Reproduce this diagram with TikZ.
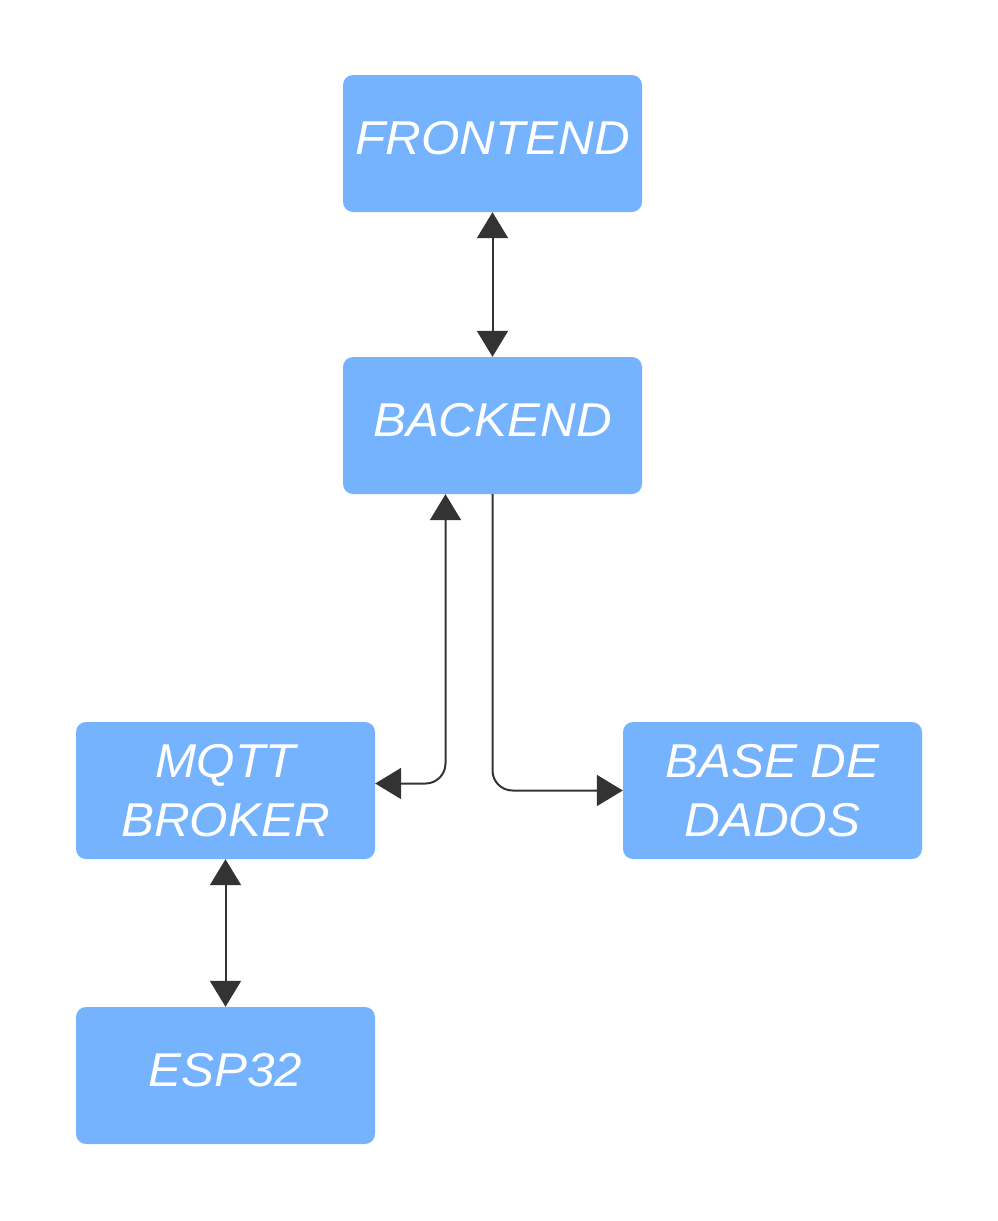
\documentclass[tikz,border=0pt]{standalone}
\usepackage{fontspec}
\setmainfont{Liberation Sans}[FakeStretch=1.04]
\usepackage{xcolor}
\usetikzlibrary{arrows.meta}
\usetikzlibrary{positioning}
\definecolor{boxblue}{HTML}{75B3FF}
\definecolor{linegray}{HTML}{333333}
\tikzset{
    block/.style={fill=boxblue, rounded corners=10pt, minimum width=299pt, minimum height=137pt,
        inner sep=0pt, text=white, align=center, font=\itshape\fontsize{47.5}{59.5}\selectfont},
    oneline/.style={block, text depth=12pt},
    link/.style={draw=linegray, line width=2pt, rounded corners=20pt},
    >={Triangle[length=26pt, width=31pt]}
}

\begin{document}
\begin{tikzpicture}[x=1pt, y=-1pt]
            \useasboundingbox (0,0) rectangle (998,1221);
            \draw (492.5,143.5) node[oneline]                 (front) {FRONTEND};
            \draw (492.5,425.5) node[oneline]                 (back) {BACKEND};
            \draw (225.5,790.5) node[block]                   (mqtt) {MQTT\\BROKER};
            \draw (772.5,790.5) node[block]                   (base) {BASE DE\\DADOS};
            \draw (225.5,1075.5) node[oneline]                (esp) {ESP32};
            \draw[link, <->] (front) -- (back);
            \draw[link, <->] ([xshift=-47pt]back.south) |- ([yshift=7pt]mqtt.east);
            \draw[link, ->] (back.south) |- (base.west);
            \draw[link, <->] (mqtt) -- (esp);
\end{tikzpicture}
\end{document}
